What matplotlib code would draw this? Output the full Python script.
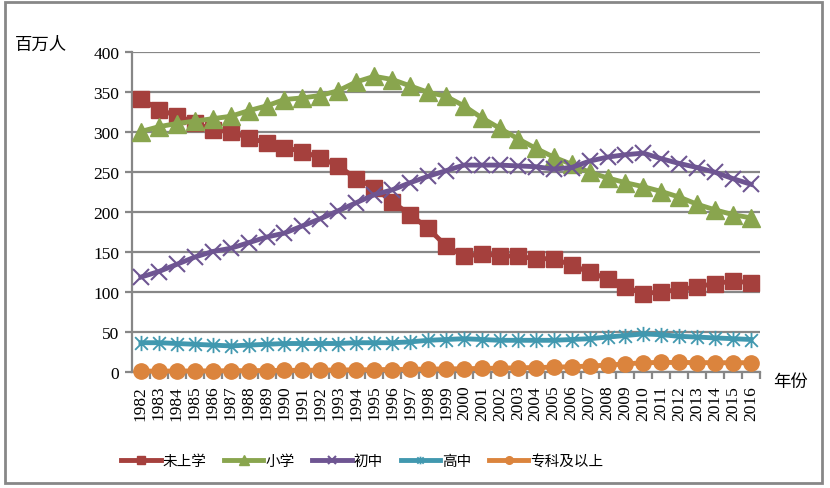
import matplotlib
matplotlib.use('Agg')
import matplotlib.pyplot as plt
from matplotlib.path import Path
from matplotlib.patches import Rectangle

plt.rcParams['font.family'] = ['Liberation Serif', 'Noto Sans CJK SC']

# data, millions of people
years = list(range(1982, 2017))
no_school = [342, 328, 321, 312, 303, 301, 293, 287, 281, 276, 268, 258, 242, 231, 213,
             197, 180, 158, 145, 148, 146, 145, 142, 142, 134, 125, 117, 107, 98, 101,
             103, 107, 111, 114, 112]
primary = [301, 307, 311, 314, 317, 320, 327, 333, 341, 343, 346, 352, 363, 370, 366,
           358, 350, 345, 333, 318, 305, 292, 280, 269, 260, 250, 243, 237, 232, 226,
           219, 210, 203, 197, 193]
junior = [119, 126, 135, 144, 151, 155, 162, 169, 174, 183, 192, 202, 212, 222, 228,
          237, 245, 252, 259, 259, 259, 258, 257, 254, 256, 264, 269, 272, 274, 267,
          261, 256, 250, 242, 235]
senior = [37, 37, 36, 35, 34, 33, 34, 35, 36, 36, 36, 36, 37, 37, 37,
          38, 40, 41, 42, 41, 40, 40, 40, 40, 41, 42, 44, 46, 48, 47,
          45, 44, 43, 42, 41]
college = [1.5, 1.5, 1.6, 1.7, 1.8, 2.0, 2.1, 2.2, 2.4, 2.5, 2.7, 2.9, 3.1, 3.3, 3.5,
           3.8, 4.0, 4.2, 4.5, 4.8, 5.2, 5.6, 6.0, 6.4, 7.0, 7.8, 9.0, 10.5, 12.0, 12.3,
           12.3, 12.2, 12.0, 12.0, 12.0]
names = ['未上学', '小学', '初中', '高中', '专科及以上']

# excel style star: x with a vertical bar
star = Path([(-1, -1), (1, 1), (-1, 1), (1, -1), (0, -1.2), (0, 1.2)],
            [Path.MOVETO, Path.LINETO, Path.MOVETO, Path.LINETO, Path.MOVETO, Path.LINETO])

fig = plt.figure(figsize=(8.3, 4.89), dpi=100)
ax = fig.add_axes([0.159, 0.2366, 0.7567, 0.6544])
x = list(range(len(years)))

ax.plot(x, no_school, color='#A5403D', lw=3.5, marker='s', ms=12, label=names[0], zorder=3, clip_on=False)
ax.plot(x, primary, color='#89A54E', lw=3.5, marker='^', ms=13, label=names[1], zorder=4, clip_on=False)
ax.plot(x, junior, color='#6E5592', lw=3.5, marker='x', ms=11, mew=1.5, label=names[2], zorder=5, clip_on=False)
ax.plot(x, senior, color='#4198AF', lw=3.5, marker=star, ms=11, mew=1.3, label=names[3], zorder=6, clip_on=False)
ax.plot(x, college, color='#DB843D', lw=3.5, marker='o', ms=11, label=names[4], zorder=7, clip_on=False)

ax.set_xlim(-0.5, len(years) - 0.5)
ax.set_ylim(0, 400)
ax.set_yticks(range(0, 401, 50))
ax.yaxis.grid(True, color='#878787', lw=1.6)
ax.set_axisbelow(True)
for s in ['top', 'right']:
    ax.spines[s].set_visible(False)
ax.spines['left'].set_color('#878787')
ax.spines['left'].set_linewidth(1.6)
ax.spines['bottom'].set_color('#878787')
ax.spines['bottom'].set_linewidth(1.6)
ax.tick_params(axis='y', length=5, width=1.6, color='#878787', labelsize=12.5, pad=4)

ax.set_xticks(x)
ax.set_xticklabels([str(y) for y in years], rotation=90, fontsize=12.5)
ax.set_xticks([i + 0.5 for i in x], minor=True)
ax.tick_params(axis='x', which='major', length=0, pad=9)
ax.tick_params(axis='x', which='minor', length=5, width=1.6, color='#878787')

fig.text(15 / 830, 1 - 45 / 489, '百万人', family=['Noto Sans CJK SC'], fontsize=12.5, va='center')
fig.text(773 / 830, 1 - 382 / 489, '年份', family=['Noto Sans CJK SC'], fontsize=12.5, va='center')

leg = fig.legend(loc='center left', bbox_to_anchor=(108 / 830, 1 - 462 / 489), ncol=5,
                 frameon=False, markerscale=0.5, handlelength=2.7, handletextpad=0.15,
                 columnspacing=1.2, prop={'family': 'Noto Sans CJK SC', 'size': 10.5})

# outer frame
fig.patches.append(Rectangle((5 / 830, 1 - 484 / 489), 817 / 830, 481 / 489, transform=fig.transFigure,
                             fill=False, edgecolor='#878787', lw=2))

fig.savefig('out.png', dpi=100)
